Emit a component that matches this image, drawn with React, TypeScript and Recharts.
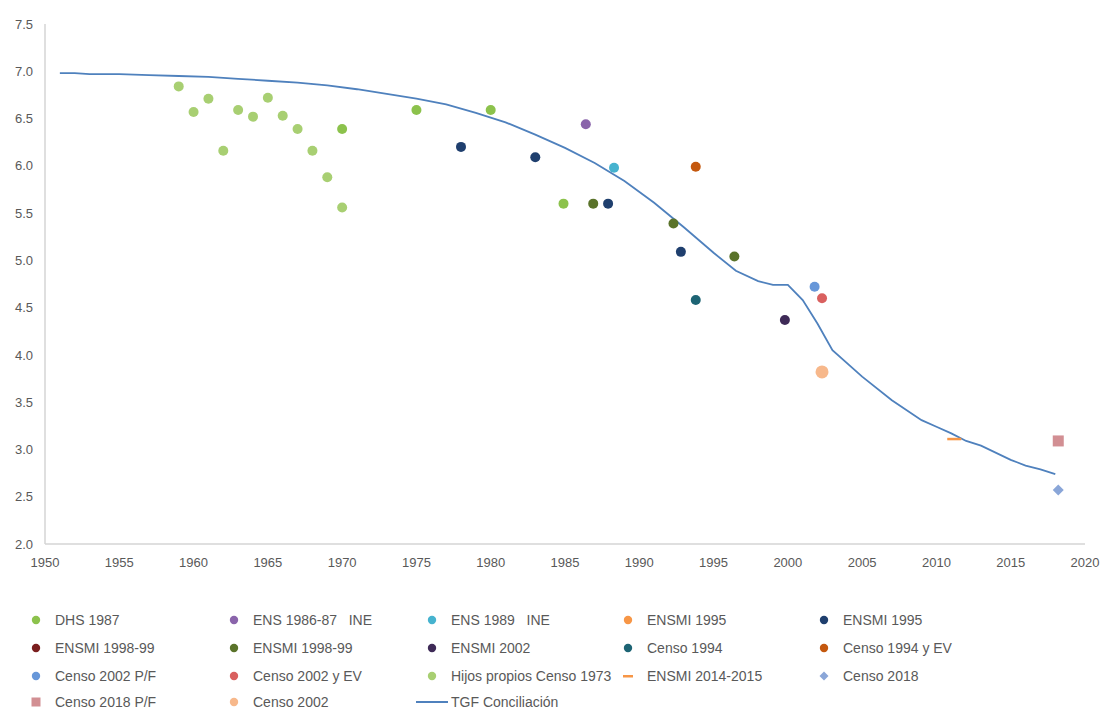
import { ScatterChart, Scatter, XAxis, YAxis } from 'recharts'

// Estimaciones de TGF por fuente (año, valor)
const yearTicks = [1950, 1955, 1960, 1965, 1970, 1975, 1980, 1985, 1990, 1995, 2000, 2005, 2010, 2015, 2020]
const tgfTicks = [2.0, 2.5, 3.0, 3.5, 4.0, 4.5, 5.0, 5.5, 6.0, 6.5, 7.0, 7.5]

const dhs1987 = [
  { x: 1970, y: 6.39 },
  { x: 1975, y: 6.59 },
  { x: 1980, y: 6.59 },
  { x: 1984.9, y: 5.6 },
]
const ens198687 = [{ x: 1986.4, y: 6.44 }]
const ens1989 = [{ x: 1988.3, y: 5.98 }]
const ensmi1995a: { x: number; y: number }[] = []
const ensmi1995b = [
  { x: 1978, y: 6.2 },
  { x: 1983, y: 6.09 },
  { x: 1987.9, y: 5.6 },
  { x: 1992.8, y: 5.09 },
]
const ensmi9899a: { x: number; y: number }[] = []
const ensmi9899b = [
  { x: 1986.9, y: 5.6 },
  { x: 1992.3, y: 5.39 },
  { x: 1996.4, y: 5.04 },
]
const ensmi2002 = [{ x: 1999.8, y: 4.37 }]
const censo1994 = [{ x: 1993.8, y: 4.58 }]
const censo1994EV = [{ x: 1993.8, y: 5.99 }]
const censo2002PF = [{ x: 2001.8, y: 4.72 }]
const censo2002EV = [{ x: 2002.3, y: 4.6 }]
const hijosPropios1973 = [
  { x: 1959, y: 6.84 },
  { x: 1960, y: 6.57 },
  { x: 1961, y: 6.71 },
  { x: 1962, y: 6.16 },
  { x: 1963, y: 6.59 },
  { x: 1964, y: 6.52 },
  { x: 1965, y: 6.72 },
  { x: 1966, y: 6.53 },
  { x: 1967, y: 6.39 },
  { x: 1968, y: 6.16 },
  { x: 1969, y: 5.88 },
  { x: 1970, y: 5.56 },
]
const ensmi20142015 = [{ x: 2011.2, y: 3.11 }]
const censo2018 = [{ x: 2018.2, y: 2.57 }]
const censo2018PF = [{ x: 2018.2, y: 3.09 }]
const censo2002 = [{ x: 2002.3, y: 3.82 }]

const tgfConciliacion = [
  { x: 1951, y: 6.98 }, { x: 1952, y: 6.98 }, { x: 1953, y: 6.97 }, { x: 1955, y: 6.97 },
  { x: 1957, y: 6.96 }, { x: 1959, y: 6.95 }, { x: 1961, y: 6.94 }, { x: 1963, y: 6.92 },
  { x: 1965, y: 6.9 }, { x: 1967, y: 6.88 }, { x: 1969, y: 6.85 }, { x: 1971, y: 6.81 },
  { x: 1973, y: 6.76 }, { x: 1975, y: 6.71 }, { x: 1977, y: 6.65 }, { x: 1979, y: 6.56 },
  { x: 1981, y: 6.46 }, { x: 1983, y: 6.33 }, { x: 1985, y: 6.19 }, { x: 1987, y: 6.03 },
  { x: 1989, y: 5.84 }, { x: 1991, y: 5.61 }, { x: 1993, y: 5.35 }, { x: 1995, y: 5.08 },
  { x: 1996.5, y: 4.89 }, { x: 1998, y: 4.78 }, { x: 1999, y: 4.74 }, { x: 2000, y: 4.74 },
  { x: 2001, y: 4.58 }, { x: 2002, y: 4.33 }, { x: 2003, y: 4.05 }, { x: 2005, y: 3.77 },
  { x: 2007, y: 3.52 }, { x: 2009, y: 3.31 }, { x: 2010, y: 3.24 }, { x: 2011, y: 3.17 },
  { x: 2012, y: 3.09 }, { x: 2013, y: 3.04 }, { x: 2015, y: 2.89 }, { x: 2016, y: 2.83 },
  { x: 2017, y: 2.79 }, { x: 2018, y: 2.74 },
]

const FONT = '"Liberation Sans", Arial, sans-serif'
const TEXT = '#595959'
const AXIS = '#d4d4d4'
const LINE = '#4f81bd'

type Kind = 'circle' | 'square' | 'diamond' | 'dash' | 'line'

interface Serie {
  name:  string
  color: string
  kind:  Kind
  data:  { x: number; y: number }[]
  r?:    number
}

const series: Serie[] = [
  { name: 'DHS 1987',                 color: '#8cc24c', kind: 'circle',  data: dhs1987 },
  { name: 'ENS 1986-87   INE',        color: '#8a64ab', kind: 'circle',  data: ens198687 },
  { name: 'ENS 1989   INE',           color: '#46b3cf', kind: 'circle',  data: ens1989 },
  { name: 'ENSMI 1995',               color: '#f79646', kind: 'circle',  data: ensmi1995a },
  { name: 'ENSMI 1995',               color: '#1f3f6e', kind: 'circle',  data: ensmi1995b },
  { name: 'ENSMI 1998-99',            color: '#7a1e1e', kind: 'circle',  data: ensmi9899a },
  { name: 'ENSMI 1998-99',            color: '#5a732a', kind: 'circle',  data: ensmi9899b },
  { name: 'ENSMI 2002',               color: '#3e2a57', kind: 'circle',  data: ensmi2002 },
  { name: 'Censo 1994',               color: '#1d6474', kind: 'circle',  data: censo1994 },
  { name: 'Censo 1994 y EV',          color: '#c4580e', kind: 'circle',  data: censo1994EV },
  { name: 'Censo 2002 P/F',           color: '#6797d9', kind: 'circle',  data: censo2002PF },
  { name: 'Censo 2002 y EV',          color: '#d9605f', kind: 'circle',  data: censo2002EV },
  { name: 'Hijos propios Censo 1973', color: '#a8cf72', kind: 'circle',  data: hijosPropios1973 },
  { name: 'ENSMI 2014-2015',          color: '#f79646', kind: 'dash',    data: ensmi20142015 },
  { name: 'Censo 2018',               color: '#8aa6d8', kind: 'diamond', data: censo2018 },
  { name: 'Censo 2018 P/F',           color: '#d28f93', kind: 'square',  data: censo2018PF },
  { name: 'Censo 2002',               color: '#f7b88b', kind: 'circle',  data: censo2002, r: 6.5 },
  { name: 'TGF Conciliación',         color: LINE,      kind: 'line',    data: tgfConciliacion },
]

function markerShape(s: Serie) {
  return (p: any) => {
    const { cx, cy } = p
    if (cx == null || cy == null) return <g />
    switch (s.kind) {
      case 'square':
        return <rect x={cx - 5.5} y={cy - 5.5} width={11} height={11} fill={s.color} />
      case 'diamond':
        return <polygon points={`${cx},${cy - 5.5} ${cx + 5.5},${cy} ${cx},${cy + 5.5} ${cx - 5.5},${cy}`} fill={s.color} />
      case 'dash':
        return <rect x={cx - 7} y={cy - 1.25} width={14} height={2.5} fill={s.color} />
      case 'line':
        return <g />
      default:
        return <circle cx={cx} cy={cy} r={s.r ?? 5} fill={s.color} />
    }
  }
}

function LegendMarker({ s }: { s: Serie }) {
  if (s.kind === 'line')
    return <line x1={2} y1={8} x2={34} y2={8} stroke={s.color} strokeWidth={2} />
  const c = 18
  if (s.kind === 'square') return <rect x={c - 4.5} y={3.5} width={9} height={9} fill={s.color} />
  if (s.kind === 'diamond')
    return <polygon points={`${c},3.5 ${c + 4.5},8 ${c},12.5 ${c - 4.5},8`} fill={s.color} />
  if (s.kind === 'dash') return <rect x={c - 5} y={7} width={10} height={2.5} fill={s.color} />
  return <circle cx={c} cy={8} r={4.2} fill={s.color} />
}

// posición de las columnas / filas de la leyenda
const colX = [36, 234, 432, 628, 824]
const rowY = [620, 648, 676, 702]

export default function App() {
  return (
    <div style={{ position: 'absolute', left: 0, top: 0, width: 1106, height: 709, background: '#fff', fontFamily: FONT, overflow: 'hidden' }}>
      <ScatterChart width={1106} height={709} margin={{ top: 24, right: 21, bottom: 135, left: 0 }}>
        <XAxis
          type="number"
          dataKey="x"
          domain={[1950, 2020]}
          ticks={yearTicks}
          interval={0}
          height={30}
          tickLine={false}
          tickMargin={8}
          axisLine={{ stroke: AXIS, strokeWidth: 1.5 }}
          tick={{ fill: TEXT, fontSize: 13, fontFamily: FONT }}
        />
        <YAxis
          type="number"
          dataKey="y"
          domain={[2, 7.5]}
          ticks={tgfTicks}
          interval={0}
          width={45}
          tickLine={false}
          tickMargin={6}
          axisLine={{ stroke: AXIS, strokeWidth: 1.5 }}
          tickFormatter={(v: number) => v.toFixed(1)}
          tick={{ fill: TEXT, fontSize: 13, fontFamily: FONT }}
        />
        <Scatter
          name="TGF Conciliación"
          data={tgfConciliacion}
          line={{ stroke: LINE, strokeWidth: 1.8 }}
          lineType="joint"
          shape={() => <g />}
          isAnimationActive={false}
        />
        {series
          .filter((s) => s.kind !== 'line')
          .map((s, i) => (
            <Scatter
              key={i}
              name={s.name}
              data={s.data}
              fill={s.color}
              shape={markerShape(s)}
              isAnimationActive={false}
            />
          ))}
      </ScatterChart>

      {series.map((s, i) => {
        const col = i % 5
        const row = Math.floor(i / 5)
        const mx = colX[col]
        const cy = rowY[row]
        return (
          <div key={i}>
            <svg
              width={36}
              height={16}
              style={{ position: 'absolute', left: mx - 18, top: cy - 8 }}
            >
              <LegendMarker s={s} />
            </svg>
            <span
              style={{
                position:   'absolute',
                left:       mx + 19,
                top:        cy - 7,
                fontSize:   14,
                lineHeight: '14px',
                color:      TEXT,
                whiteSpace: 'pre',
              }}
            >
              {s.name}
            </span>
          </div>
        )
      })}
    </div>
  )
}
